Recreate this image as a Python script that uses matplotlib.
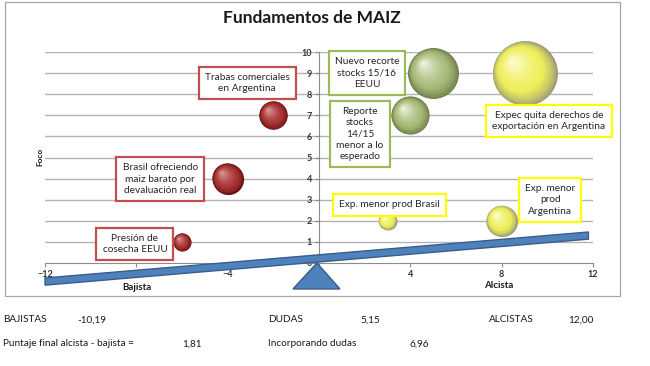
import numpy as np
import matplotlib
matplotlib.use('Agg')
import matplotlib.pyplot as plt
from matplotlib.patches import Rectangle, Polygon
from matplotlib.transforms import offset_copy
import matplotlib.colors as mcolors

plt.rcParams['font.family'] = ['Lato', 'DejaVu Sans']

# ---------------- data ----------------
title = "Fundamentos de MAIZ"
labels = ["Presión de\ncosecha EEUU",
          "Brasil ofreciendo\nmaiz barato por\ndevaluación real",
          "Trabas comerciales\nen Argentina",
          "Reporte\nstocks\n14/15\nmenor a lo\nesperado",
          "Nuevo recorte\nstocks 15/16\nEEUU",
          "Expec quita derechos de\nexportación en Argentina",
          "Exp. menor prod Brasil",
          "Exp. menor\nprod\nArgentina"]
x_vals = [-6, -4, -2, 4, 5, 9, 3, 8]
y_vals = [1, 4, 7, 7, 9, 9, 2, 2]
sizes = [1, 3, 2.5, 4.5, 8, 13, 1, 3]
groups = ["bajista", "bajista", "bajista", "duda", "duda", "alcista", "alcista", "alcista"]

x_ticks = [-12, -8, -4, 0, 4, 8, 12]
y_ticks = list(range(0, 11))

summary_row1 = [("BAJISTAS", 3), ("-10,19", 77), ("DUDAS", 268), ("5,15", 360),
                ("ALCISTAS", 489), ("12,00", 568)]
summary_row2 = [("Puntaje final alcista - bajista =", 3), ("1,81", 182),
                ("Incorporando dudas", 268), ("6,96", 410)]

# ---------------- layout / style ----------------
W, H = 650, 366
fig = plt.figure(figsize=(W / 100, H / 100), dpi=100)
ax = fig.add_axes([45 / W, 1 - 263 / H, 548 / W, 211 / H])
ax.set_xlim(-12, 12)
ax.set_ylim(0, 10)

# label box centres (data coords)
label_pos = [(-8.06, 0.9), (-6.96, 3.98), (-3.15, 8.53), (1.80, 6.11),
             (2.10, 9.0), (10.07, 6.73), (3.07, 2.75), (10.12, 2.99)]

palette = {
    "bajista": dict(edge="#6A1212", body="#A83434", hi="#E0A0A0", box="#C0504D"),
    "duda": dict(edge="#6C7A46", body="#A7BB7A", hi="#F4F8E6", box="#9BBB59"),
    "alcista": dict(edge="#9A9A78", body="#EEEE5A", hi="#FFFFD8", box="#FFFF00"),
}

grid_c = "#B3B3B3"
for yv in y_ticks[1:]:
    ax.axhline(yv, color=grid_c, lw=1.0, zorder=1)

for s in ["top", "right"]:
    ax.spines[s].set_visible(False)
ax.spines["left"].set_position(("data", 0))
ax.spines["left"].set_color("#8C8C8C")
ax.spines["bottom"].set_color("#8C8C8C")
ax.set_xticks(x_ticks)
ax.set_yticks(y_ticks)
ax.tick_params(axis="both", colors="#8C8C8C", labelcolor="#333333",
               labelsize=6.5, length=3, width=0.8, pad=2)
for lab in ax.get_xticklabels() + ax.get_yticklabels():
    lab.set_fontweight("bold")


def mix(c1, c2, t):
    a = np.array(mcolors.to_rgb(c1))
    b = np.array(mcolors.to_rgb(c2))
    return tuple(a + (b - a) * t)


def sphere(x, y, s, pal, n=36):
    d = np.sqrt(s)
    r = d / 2
    for k in range(n):
        f = 1 - k / n
        t = 1 - f
        off = t * r * 0.42
        tr = offset_copy(ax.transData, fig=fig, x=-off, y=off, units="points")
        if t < 0.3:
            c = mix(pal["edge"], pal["body"], (t / 0.3) ** 0.7)
        else:
            c = mix(pal["body"], pal["hi"], ((t - 0.3) / 0.7) ** 1.3)
        ax.scatter([x], [y], s=(d * f) ** 2, color=c, transform=tr, lw=0,
                   clip_on=False, zorder=3 + k * 0.001)


size_scale = 168
for x, y, sz, g in zip(x_vals, y_vals, sizes, groups):
    sphere(x, y, sz * size_scale, palette[g])

for lab, (lx, ly), g in zip(labels, label_pos, groups):
    ax.text(lx, ly, lab, ha="center", va="center", fontsize=7.3,
            color="#262626", linespacing=1.32, zorder=6,
            bbox=dict(boxstyle="square,pad=0.6", fc="white",
                      ec=palette[g]["box"], lw=1.6))

# seesaw beam and fulcrum
beam_left = np.array([-12.0, -0.88])
beam_right = np.array([11.8, 1.30])
half_t = 0.17
beam = Polygon([beam_left + [0, half_t], beam_right + [0, half_t],
                beam_right - [0, half_t], beam_left - [0, half_t]],
               closed=True, fc="#4F81BD", ec="#385D8A", lw=1.0,
               clip_on=False, zorder=8)
ax.add_patch(beam)
tri = Polygon([(-0.09, 0.0), (0.92, -1.23), (-1.14, -1.23)], closed=True,
              fc="#4F81BD", ec="#385D8A", lw=1.0, clip_on=False, zorder=7)
ax.add_patch(tri)

# axis titles
fig.text(137 / W, 1 - 287 / H, "Bajista", ha="center", va="center",
         fontsize=7, fontweight="bold", color="#1A1A1A")
fig.text(499 / W, 1 - 286 / H, "Alcista", ha="center", va="center",
         fontsize=7, fontweight="bold", color="#1A1A1A")
fig.text(40 / W, 1 - 157 / H, "Foco", ha="center", va="center", rotation=90,
         fontsize=6, fontweight="bold", color="#1A1A1A")
fig.text(312 / W, 1 - 18 / H, title, ha="center", va="center",
         fontsize=12.5, fontweight="bold", color="#1A1A1A")

# chart frame
fig.patches.append(Rectangle((5 / W, 1 - 296 / H), 615 / W, 294 / H,
                             transform=fig.transFigure, fill=False,
                             ec="#A6A6A6", lw=0.9))

for txt, px in summary_row1:
    fig.text(px / W, 1 - 320 / H, txt, ha="left", va="center",
             fontsize=7.2, color="#1A1A1A")
for txt, px in summary_row2:
    fig.text(px / W, 1 - 344 / H, txt, ha="left", va="center",
             fontsize=7.2, color="#1A1A1A")

fig.savefig("out.png", dpi=100, facecolor="white")
